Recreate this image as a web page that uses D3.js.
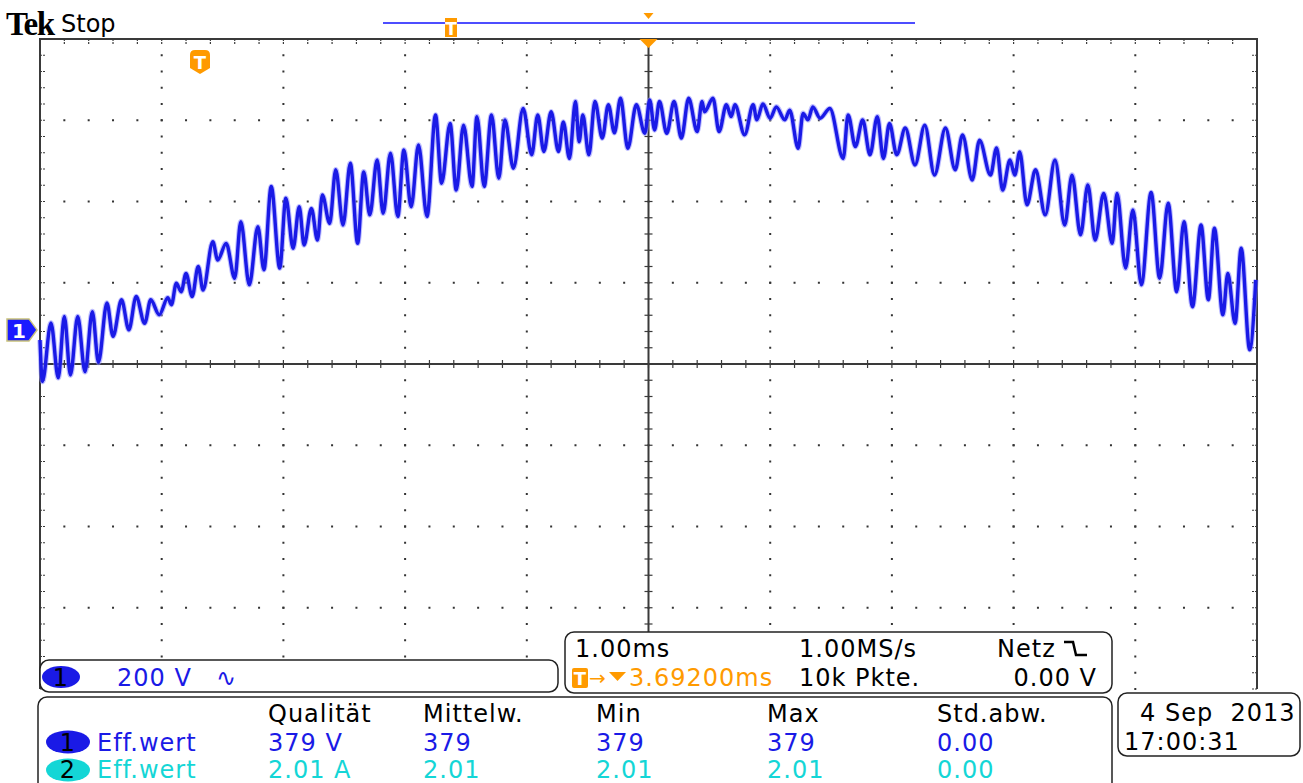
<!DOCTYPE html>
<html>
<head>
<meta charset="utf-8">
<script src="https://cdn.jsdelivr.net/npm/d3@7"></script>
<style>
  body { margin: 0; background: #fff; }
</style>
</head>
<body>
<script>
// scope settings
const timePerDiv = 1.00;      // ms
const voltsPerDiv = 200;      // V
const ch1Offset = 0.42;       // divisions above centre

// channel 1 trace, [ms from left edge, volts]
const trace = [
  [0.00,-25],[0.02,-127],[0.09,17],[0.15,-118],[0.20,33],[0.25,-111],[0.31,33],[0.37,-103],[0.43,45],[0.48,-80],
  [0.55,66],[0.60,-16],[0.67,74],[0.73,0],[0.79,82],[0.86,16],[0.91,74],[0.98,37],[1.05,79],[1.08,62],
  [1.12,115],[1.16,94],[1.20,139],[1.25,82],[1.30,156],[1.34,98],[1.42,217],[1.46,172],[1.53,213],[1.60,127],
  [1.65,266],[1.72,111],[1.79,254],[1.84,148],[1.90,353],[1.97,152],[2.02,324],[2.08,201],[2.13,303],[2.17,209],
  [2.23,299],[2.28,221],[2.32,332],[2.38,262],[2.43,394],[2.49,258],[2.55,410],[2.61,213],[2.66,389],[2.71,283],
  [2.77,418],[2.82,287],[2.88,435],[2.94,279],[2.99,443],[3.05,303],[3.11,455],[3.18,279],[3.25,529],[3.30,361],
  [3.37,508],[3.42,344],[3.48,504],[3.55,353],[3.59,525],[3.65,353],[3.71,529],[3.77,373],[3.82,517],[3.89,398],
  [3.97,545],[4.04,431],[4.09,529],[4.14,439],[4.20,537],[4.26,439],[4.30,512],[4.35,422],[4.40,562],[4.43,463],
  [4.46,529],[4.51,431],[4.56,562],[4.62,472],[4.67,554],[4.72,485],[4.77,570],[4.83,447],[4.90,554],[4.97,484],
  [5.01,566],[5.05,492],[5.09,562],[5.15,484],[5.21,562],[5.27,472],[5.33,570],[5.40,488],[5.44,562],[5.46,537],
  [5.53,570],[5.58,488],[5.64,554],[5.68,525],[5.71,554],[5.79,480],[5.86,554],[5.89,517],[5.94,556],[6.00,521],
  [6.05,549],[6.12,517],[6.16,541],[6.23,447],[6.27,533],[6.31,517],[6.35,549],[6.41,521],[6.49,545],[6.60,422],
  [6.64,529],[6.70,451],[6.76,517],[6.82,431],[6.88,525],[6.93,422],[6.98,508],[7.04,431],[7.11,497],[7.19,406],
  [7.27,504],[7.35,381],[7.44,497],[7.52,394],[7.58,480],[7.66,369],[7.72,467],[7.81,381],[7.86,448],[7.91,344],
  [7.97,418],[8.01,381],[8.05,438],[8.11,308],[8.18,394],[8.26,283],[8.34,418],[8.42,258],[8.48,381],[8.55,234],
  [8.61,357],[8.67,221],[8.74,336],[8.81,213],[8.85,336],[8.92,152],[8.98,295],[9.05,111],[9.13,338],[9.20,127],
  [9.27,312],[9.34,94],[9.40,266],[9.47,57],[9.54,258],[9.60,74],[9.65,250],[9.72,37],[9.76,139],[9.82,16],
  [9.87,201],[9.94,-49],[9.99,123]
];

const measHeaders = ["Qualität", "Mittelw.", "Min", "Max", "Std.abw."];
const measCh1 = ["379 V", "379", "379", "379", "0.00"];
const measCh2 = ["2.01 A", "2.01", "2.01", "2.01", "0.00"];
const measLabel = "Eff.wert";
const timeInfo = ["1.00ms", "1.00MS/s", "Netz", "3.69200ms", "10k Pkte.", "0.00 V"];
const dateInfo = ["4 Sep  2013", "17:00:31"];

const W = 1303, H = 783;
const blue = "#1a1ae6", cyan = "#14d6d6", orange = "#ff9a00", grid = "#3a3a3a";
const sans = "DejaVu Sans, sans-serif";

const svg = d3.select("body").append("svg").attr("width", W).attr("height", H);
svg.append("rect").attr("width", W).attr("height", H).attr("fill", "#fff");

// graticule in divisions
const gx = d3.scaleLinear().domain([0, 10]).range([40, 1257]);
const gy = d3.scaleLinear().domain([-4, 4]).range([689, 39]);
// data scales
const x = d3.scaleLinear().domain([0, 10 * timePerDiv]).range(gx.range());
const y = d3.scaleLinear()
  .domain([(-4 - ch1Offset) * voltsPerDiv, (4 - ch1Offset) * voltsPerDiv])
  .range(gy.range());

const g = svg.append("g");
const fine = d3.range(0, 50.5).map(i => i / 5);
const fineY = d3.range(0, 40.5).map(i => -4 + i / 5);

// dotted major lines
[1,2,3,4,6,7,8,9].forEach(k => {
  g.selectAll(null).data(fineY).join("rect")
    .attr("x", gx(k) - 1).attr("y", d => gy(d) - 1)
    .attr("width", 2).attr("height", 2).attr("fill", "#333");
});
[-3,-2,-1,1,2,3].forEach(j => {
  g.selectAll(null).data(fine).join("rect")
    .attr("x", d => gx(d) - 1).attr("y", gy(j) - 1)
    .attr("width", 2).attr("height", 2).attr("fill", "#333");
});

// centre lines with ticks
g.append("line").attr("x1", gx(0)).attr("x2", gx(10)).attr("y1", gy(0)).attr("y2", gy(0))
  .attr("stroke", grid).attr("stroke-width", 2);
g.append("line").attr("x1", gx(5)).attr("x2", gx(5)).attr("y1", gy(4)).attr("y2", gy(-4))
  .attr("stroke", grid).attr("stroke-width", 2);
g.selectAll(null).data(fine).join("line")
  .attr("x1", d => gx(d)).attr("x2", d => gx(d)).attr("y1", gy(0) - 4).attr("y2", gy(0) + 4)
  .attr("stroke", grid).attr("stroke-width", 1.2);
g.selectAll(null).data(fineY).join("line")
  .attr("y1", d => gy(d)).attr("y2", d => gy(d)).attr("x1", gx(5) - 4).attr("x2", gx(5) + 4)
  .attr("stroke", grid).attr("stroke-width", 1.2);

// border and border ticks
g.append("path")
  .attr("d", `M${gx(0)},${gy(-4)}V${gy(4)}H${gx(10)}V${gy(-4)}`)
  .attr("fill", "none").attr("stroke", grid).attr("stroke-width", 2);
g.selectAll(null).data(fine).join("line")
  .attr("x1", d => gx(d)).attr("x2", d => gx(d)).attr("y1", gy(4)).attr("y2", gy(4) + 5)
  .attr("stroke", grid).attr("stroke-width", 1.2).attr("stroke-dasharray", "2,1");
g.selectAll(null).data(fineY).join("line")
  .attr("y1", d => gy(d)).attr("y2", d => gy(d)).attr("x1", gx(0)).attr("x2", gx(0) + 5)
  .attr("stroke", grid).attr("stroke-width", 1.2).attr("stroke-dasharray", "2,1");
g.selectAll(null).data(fineY).join("line")
  .attr("y1", d => gy(d)).attr("y2", d => gy(d)).attr("x1", gx(10) - 5).attr("x2", gx(10))
  .attr("stroke", grid).attr("stroke-width", 1.2).attr("stroke-dasharray", "2,1");

// trace
const line = d3.line().x(d => x(d[0])).y(d => y(d[1])).curve(d3.curveMonotoneX);
svg.append("path").datum(trace).attr("d", line)
  .attr("fill", "none").attr("stroke", "#8a8aff").attr("stroke-width", 5.5)
  .attr("stroke-linejoin", "round").attr("opacity", 0.55);
svg.append("path").datum(trace).attr("d", line)
  .attr("fill", "none").attr("stroke", blue).attr("stroke-width", 3.4)
  .attr("stroke-linejoin", "round");

// channel 1 ground marker
const y0 = y(0);
svg.append("path")
  .attr("d", `M7,${y0 - 11}H29L37,${y0}L29,${y0 + 11}H7Z`)
  .attr("fill", "#1a1aff").attr("stroke", "#c9c27a").attr("stroke-width", 1.5);
svg.append("text").attr("x", 19).attr("y", y0 + 8).attr("text-anchor", "middle")
  .style("font-family", sans).attr("font-size", 20).attr("font-weight", "bold").attr("fill", "#fff").text("1");

// header
svg.append("text").attr("x", 6).attr("y", 35).style("font-family", "Liberation Serif, serif")
  .attr("font-weight", "bold").attr("font-size", 33).attr("letter-spacing", -1.5).attr("fill", "#000").text("Tek");
svg.append("text").attr("x", 61).attr("y", 32).style("font-family", sans)
  .attr("font-size", 24).attr("fill", "#000").text("Stop");

// record bar and trigger markers
svg.append("line").attr("x1", 383).attr("x2", 915).attr("y1", 23).attr("y2", 23)
  .attr("stroke", "#4d4dff").attr("stroke-width", 2);
svg.append("rect").attr("x", 445).attr("y", 18).attr("width", 12).attr("height", 19).attr("fill", orange);
svg.append("text").attr("x", 451).attr("y", 35).attr("text-anchor", "middle").style("font-family", sans)
  .attr("font-size", 17).attr("font-weight", "bold").attr("fill", "#fff").text("T");
svg.append("path").attr("d", `M${gx(5) - 5},13H${gx(5) + 5}L${gx(5)},19Z`).attr("fill", orange);
svg.append("path").attr("d", `M${gx(5) - 9},${gy(4)}H${gx(5) + 9}L${gx(5)},${gy(4) + 9}Z`).attr("fill", orange);
svg.append("path").attr("d", "M190,55Q190,50 195,50H205Q210,50 210,55V68L200,74L190,68Z").attr("fill", orange);
svg.append("text").attr("x", 200).attr("y", 69).attr("text-anchor", "middle").style("font-family", sans)
  .attr("font-size", 18).attr("font-weight", "bold").attr("fill", "#fff").text("T");

// info boxes
const box = (bx, by, bw, bh) => svg.append("rect").attr("x", bx).attr("y", by).attr("width", bw).attr("height", bh)
  .attr("rx", 9).attr("fill", "#fff").attr("stroke", "#222").attr("stroke-width", 1.5);
box(40, 660, 518, 32);
box(565, 632, 547, 61);
box(38, 697, 1074, 110);
box(1118, 693, 182, 63);

const txt = (tx, ty, s, fill, anchor) => svg.append("text").attr("x", tx).attr("y", ty)
  .style("font-family", sans).style("white-space", "pre")
  .attr("font-size", 24).attr("letter-spacing", 1).attr("fill", fill || "#000")
  .attr("text-anchor", anchor || "start").text(s);

// channel 1 scale box
svg.append("ellipse").attr("cx", 61).attr("cy", 677).attr("rx", 19).attr("ry", 11).attr("fill", blue);
txt(61, 686, "1", "#000", "middle");
txt(117, 686, "200 V", blue);
txt(216, 686, "\u223F", blue);

// timebase box
txt(575, 657, timeInfo[0]);
txt(799, 657, timeInfo[1]);
txt(997, 657, timeInfo[2]);
svg.append("path").attr("d", "M1064,642H1073L1076,655H1087").attr("fill", "none")
  .attr("stroke", "#000").attr("stroke-width", 2.5);
svg.append("rect").attr("x", 572).attr("y", 668).attr("width", 16).attr("height", 20).attr("rx", 2).attr("fill", orange);
svg.append("text").attr("x", 580).attr("y", 685).attr("text-anchor", "middle").style("font-family", sans)
  .attr("font-size", 18).attr("font-weight", "bold").attr("fill", "#fff").text("T");
svg.append("text").attr("x", 589).attr("y", 685).style("font-family", sans)
  .attr("font-size", 20).attr("fill", orange).text("\u2192");
svg.append("path").attr("d", "M609,672H626L617.5,681Z").attr("fill", orange);
txt(629, 686, timeInfo[3], orange);
txt(799, 686, timeInfo[4]);
txt(1097, 686, timeInfo[5], "#000", "end");

// measurement box
const colX = [268, 423, 596, 767, 937];
measHeaders.forEach((s, i) => txt(colX[i], 722, s));
svg.append("ellipse").attr("cx", 68).attr("cy", 742).attr("rx", 22).attr("ry", 11.5).attr("fill", blue);
txt(68, 751, "1", "#000", "middle");
txt(97, 751, measLabel, blue);
measCh1.forEach((s, i) => txt(colX[i], 751, s, blue));
svg.append("ellipse").attr("cx", 68).attr("cy", 770).attr("rx", 22).attr("ry", 11.5).attr("fill", cyan);
txt(68, 778, "2", "#000", "middle");
txt(97, 778, measLabel, cyan);
measCh2.forEach((s, i) => txt(colX[i], 778, s, cyan));

// date box
txt(1140, 721, dateInfo[0]);
txt(1124, 750, dateInfo[1]);
</script>
</body>
</html>
